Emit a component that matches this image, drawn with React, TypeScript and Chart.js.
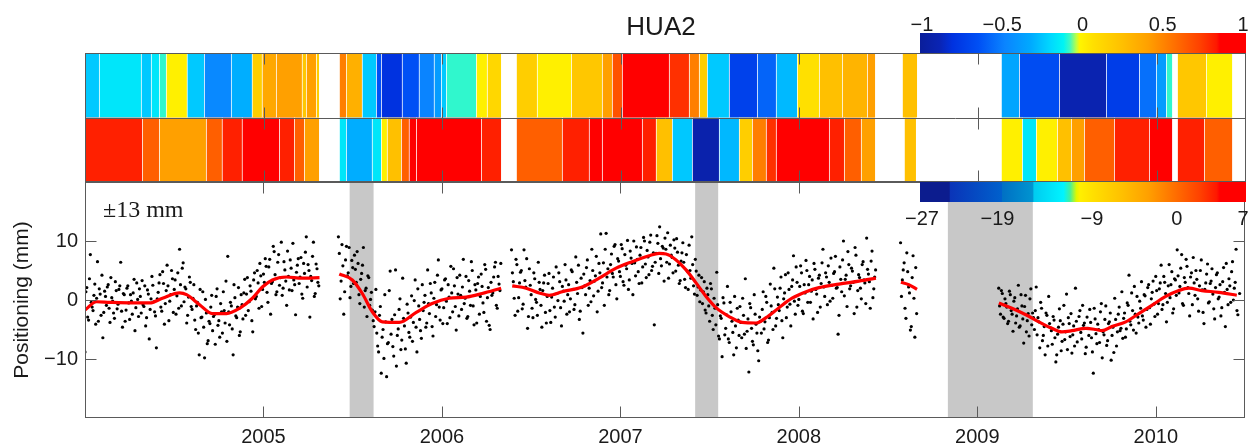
import React, { useEffect, useRef } from 'react';
import { Chart, registerables } from 'chart.js';

Chart.register(...registerables);

const FONT = "'Liberation Sans', Arial, sans-serif";
const SERIF = "'Liberation Serif', 'Times New Roman', serif";
const TEXT = '#1a1a1a';
const AXIS = '#5a5a5a';

const titleText = 'HUA2';
const yAxisTitle = 'Positioning (mm)';
const rangeNote = '\u00b113 mm';

const xMin = 2004;
const xMax = 2010.5;
const yMin = -20;
const yMax = 20;
const xTickYears = [2005, 2006, 2007, 2008, 2009, 2010];
const yTickValues = [-10, 0, 10];
const corrTicks = [-1, -0.5, 0, 0.5, 1];
const ampTicks = [-27, -19, -9, 0, 7];
const corrRange = [-1, 1];
const ampRange = [-27, 7];

const grayBands = [
  [2005.483, 2005.617],
  [2007.419, 2007.548],
  [2008.835, 2009.311],
];

// GPS positions (mm), regularly sampled every dotStep years within each continuous segment;
// two interleaved sample sets per segment
const dotStep = 0.01;
const dotStarts = [2004.0, 2005.42, 2006.39, 2008.57, 2009.12];
const dotStarts2 = [2004.005, 2005.425, 2006.395, 2008.575, 2009.125];
const dotsA = [
  -8.8, 2.1, -3.4, 7.7, -1.2, 0.8, -4.1, 6.5, 1.9, -2.6,
  -6.4, 1.5, -0.9, 2.6, -3.8, 0.4, -2.2, 3.1, -1.5, 1.8,
  6.4, -4.6, 0.9, -1.7, 2.4, -3.3, -0.2, 1.2, -5.2, 2.9,
  -2.8, 0.6, 3.3, -1.1, -4.4, 1.7, -6.6, 0.2, 2.5, -2.0,
  -8.1, 1.3, 4.3, -1.9, 2.8, -0.6, 5.9, -3.5, 0.9, 3.6,
  1.8, -2.4, 4.6, 8.6, -1.0, 6.3, 2.2, -3.9, 0.5, 3.0,
  -1.6, 2.6, -5.0, -0.4, -9.3, -3.0, 1.4, -9.8, -2.2, -6.9,
  -4.0, 0.8, -2.8, -7.5, 1.9, -3.5, -0.6, -5.6, -1.8, 3.2,
  7.4, -4.2, -1.0, -9.3, 0.4, -3.0, 2.1, -5.4, -0.8, 1.2,
  -2.6, 3.8, -0.3, 1.5, -5.4, 4.6, 0.6, 2.9, 6.2, -1.1,
  4.4, 7.0, 1.3, 5.6, -2.4, 3.1, 8.2, 0.9, 6.4, 2.5,
  9.8, 2.0, 5.1, -0.9, 4.0, 6.8, 1.6, 3.4, -2.5, 5.9,
  2.8, 7.2, 0.3, 4.5, 10.7, 6.0, -2.9, 3.3, 9.8, 1.1,
  5.3, 2.4,
];
const dotsA2 = [
  1.4, -2.9, 3.6, -0.4, -1.8, 2.7, 0.3, -3.6, 1.0, 4.2,
  -2.1, 0.6, 2.2, -1.4, 3.8, -0.2, -3.1, 1.6, -0.7, 2.4,
  -1.9, 1.1, -3.6, 2.0, -0.5, 0.9, -2.4, 3.5, -1.3, 0.1,
  1.9, -2.2, -0.8, 2.4, -3.0, 1.0, -1.6, 4.0, -0.3, -2.7,
  0.2, 2.9, -1.2, 4.8, -4.1, 1.6, 2.4, -0.2, 5.0, -2.1,
  3.4, 0.7, -1.4, 2.6, 5.4, -0.3, 1.9, -2.6, 3.9, -1.1,
  0.3, -3.4, -1.0, -5.6, 1.8, -2.9, -4.6, 0.1, -7.4, -3.6,
  -1.2, -5.2, -2.5, 0.6, -4.3, -6.3, -2.0, 1.4, -3.9, -7.0,
  -2.0, -0.4, -4.9, 2.6, -2.7, -1.2, -6.0, 0.9, -3.2, 3.5,
  1.0, -1.8, 2.4, -3.5, 3.4, 0.2, 5.0, -1.4, 4.1, 1.8,
  3.0, 5.7, -0.4, 6.9, 2.8, 9.1, 4.3, 1.4, 7.7, 3.8,
  0.8, 6.5, 3.2, 8.3, 1.7, 5.4, 9.6, 2.6, 4.7, 7.0,
  3.9, 1.0, 6.2, 8.1, 2.2, 5.0, 4.0, 7.4, 0.6, 6.1,
  3.0,
];
const dotsB = [
  10.7, 0.2, 9.4, -2.4, 6.8, 4.1, 8.9, 2.3, 5.5, 7.6,
  3.0, 6.2, -0.6, 4.5, 8.9, 1.6, -2.8, 3.8, 0.1, -1.7,
  -4.5, 1.8, -7.8, -2.6, -12.4, -5.0, 0.9, -13.0, -7.2, 4.9,
  -3.3, -9.5, 5.1, -6.0, -1.6, -8.4, 3.7, -4.4, -10.7, -2.2,
  -6.3, 0.7, -3.8, 3.4, -8.8, -1.0, -5.2, 2.6, -0.4, -4.6,
  5.1, -2.3, 1.2, -6.1, 3.0, -0.8, 6.8, -3.4, 1.9, -1.3,
  3.6, -4.0, 0.5, 5.7, -2.0, 2.4, -5.1, 1.0, 4.2, -1.6,
  6.9, 0.3, -3.1, 3.3, -0.9, 5.0, -4.2, 1.7, 2.8, -2.4,
  4.4, -0.5, 6.0, -3.6, 2.1, -5.0, 0.8, 3.9, 6.4, -1.4,
  2.7, 6.2,
];
const dotsB2 = [
  7.9, 3.2, 5.8, 1.4, 9.1, 4.6, 0.4, 6.7, 2.8, 5.2,
  8.2, 0.9, 3.5, 5.9, -1.2, 2.0, 4.1, -0.9, 1.3, -3.5,
  -2.0, -5.6, -8.8, -1.1, -6.3, -9.9, -3.7, -7.4, 1.6, -5.8,
  -7.9, -2.5, -11.2, -4.9, 0.2, -6.8, -3.1, -8.3, -0.7, -5.5,
  -2.9, -7.0, -0.1, -4.6, 1.9, -3.3, -6.5, -1.8, 0.8, -3.9,
  -0.6, 2.8, -4.5, 0.3, -2.8, 4.2, -1.2, 1.7, -4.0, 3.4,
  -0.2, 2.6, -3.0, 1.2, 5.3, -1.1, 3.8, -2.7, 0.8, 2.2,
  -0.6, 4.0, -2.8, 1.5, 6.5, -1.0, 2.6, -3.9, 3.9, 0.6,
  2.3, -2.1, 5.2, 0.4, -4.3, 3.0, 1.2, 5.6, -0.9, 4.0,
  1.6,
];
const dotsC = [
  8.5, 3.1, -2.6, 6.0, 0.4, 4.7, -1.5, 8.5, 2.2, -4.8,
  5.3, 0.9, -3.0, 3.6, -0.4, 6.4, 1.8, -4.6, 2.9, -2.1,
  0.6, 4.5, -3.8, 2.0, -1.2, 5.6, -0.1, 3.1, -4.4, 1.5,
  6.0, -2.4, 2.6, 0.2, 4.8, -1.6, 7.3, 1.1, -3.3, 3.7,
  -5.6, 2.4, 5.5, -0.9, 3.3, 8.6, 0.7, 4.1, -2.0, 6.2,
  11.2, 2.9, -0.9, 11.3, 5.3, 1.6, 7.8, 3.9, 9.4, 0.2,
  6.6, 4.0, 8.7, 2.5, 5.9, 10.1, 3.4, 7.1, 0.9, 6.3,
  9.0, 4.8, 7.6, 2.9, 10.6, 6.1, 8.4, 4.3, 11.0, 5.7,
  -4.2, 7.9, 9.6, 12.4, 5.8, 8.8, 10.5, 6.4, 3.7, 9.3,
  7.2, 10.2, 4.9, 8.1, 2.8, 6.6, 9.7, 3.5, 7.7, 1.8,
  5.0, 10.7, 2.4, 6.9, 0.8, 4.2, 1.7, -0.6, 3.1, -2.2,
  0.9, -3.6, 1.9, -5.0, -1.4, 4.7, -6.1, -2.7, -9.6, -0.5,
  -4.8, 2.3, -7.2, -2.0, -5.5, 0.6, -8.1, -3.4, -1.1, -6.4,
  -2.6, 3.6, -5.3, -12.2, -1.3, -7.0, 0.9, -4.1, -8.6, -2.9,
  -5.6, 1.4, -3.7, -0.4, -6.8, 2.7, -2.1, 5.4, -4.4, 0.5,
  -1.8, 3.9, -6.4, 1.2, -3.0, 4.6, -0.7, 2.3, 7.5, -2.4,
  3.0, 0.1, 5.8, -1.9, 2.6, 6.7, -0.4, 4.0, 1.5, -3.2,
  5.2, 1.0, 3.7, -1.2, 6.3, 2.2, 4.6, -0.8, 3.0, 7.1,
  0.3, 4.8, 2.0, -5.8, 5.6, 1.4, 10.0, 3.5, -1.1, 6.0,
  2.4, 4.9, -2.3, 7.6, 1.6, 3.8, 0.2, 6.5, 2.9, 10.5,
  4.4, -1.4, 8.3, 1.9, 5.1,
];
const dotsC2 = [
  4.6, 0.3, 6.9, -1.9, 2.9, 5.0, -0.7, 3.3, 7.0, -2.8,
  2.5, -1.4, 4.6, 0.1, -2.6, 3.0, -0.9, 1.6, 4.2, -3.9,
  2.8, -1.8, 0.5, 3.9, -2.9, 1.1, 4.6, -1.3, 2.3, -0.2,
  3.4, 0.9, -2.0, 5.1, 1.8, -0.8, 3.0, 5.9, -1.9, 2.1,
  4.4, 0.9, 6.8, 2.0, -0.3, 5.0, 3.2, 7.4, 1.5, 4.6,
  2.1, 6.3, 8.6, 3.9, 0.9, 6.0, 4.5, 9.1, 2.6, 7.0,
  4.8, 9.4, 3.1, 7.7, 5.3, 1.8, 8.3, 6.2, 10.0, 4.1,
  6.9, 2.8, 8.9, 5.6, 10.0, 3.8, 7.3, 9.8, 5.0, 8.0,
  6.4, 10.9, 4.5, 7.0, 9.1, 3.2, 8.6, 11.4, 6.1, 7.6,
  4.6, 8.8, 10.4, 5.9, 3.3, 8.0, 6.4, 2.1, 4.9, 9.3,
  3.7, 6.0, 1.0, 4.9, 2.2, -0.3, 3.8, 1.4, -1.7, 2.0,
  -1.0, 2.8, -2.6, 0.3, -4.2, -0.8, -6.6, -3.1, 0.4, -5.9,
  -2.5, -6.6, -0.4, -3.6, -9.3, -4.4, -1.4, -6.0, -3.8, 0.3,
  -5.8, -8.2, -3.2, -0.6, -4.8, -7.6, -2.4, -5.6, -10.3, -3.6,
  -1.6, -4.9, 0.6, -7.2, -3.0, -1.0, -5.0, 1.9, -3.1, -0.8,
  2.0, -3.5, 0.2, 4.3, -1.2, 1.8, -4.4, 3.4, -0.2, 5.6,
  -0.9, 2.3, 4.6, -2.3, 1.2, 5.0, 2.6, -0.4, 3.4, 6.2,
  1.8, -2.1, 4.2, 2.8, 8.6, 0.6, 3.9, 5.8, -0.2, 2.5,
  4.5, 7.4, 2.1, -2.6, 3.5, 6.8, 0.7, 4.2, 8.2, 1.9,
  5.4, 3.0, 8.9, -1.2, 4.3, 2.0, 6.0, 3.4, -0.6, 5.2,
  3.1, 6.6, 0.4, 3.9,
];
const dotsD = [9.7, 3.4, 6.3, -3.1, 4.8, 1.2, -4.5, 7.5, -6.3, -2.3];
const dotsD2 = [0.6, 5.1, -1.4, 8.0, 2.2, -5.1, 3.8, 0.3, 5.5];
const dotsE = [
  2.0, -2.4, 1.1, -3.1, -0.6, -4.0, 1.5, -1.8, -5.3, 0.4,
  -2.7, 2.5, -4.4, -1.0, -7.3, 0.8, -3.5, -6.1, 1.9, -2.2,
  -5.0, 2.2, -3.0, -8.1, -1.4, -6.0, -9.3, -2.6, 0.6, -4.7,
  -7.5, -3.4, -10.5, -5.8, -1.5, -8.6, -4.1, -6.7, 1.0, -3.0,
  -6.2, -9.0, -4.4, 2.0, -7.1, -2.8, -5.5, -0.9, -3.9, -8.0,
  -4.8, -1.6, -6.4, -12.4, -3.2, -7.4, -5.0, -2.0, -9.8, -5.9,
  -1.0, -6.9, -3.7, -10.2, -4.6, 0.3, -7.8, -2.4, -5.2, 1.4,
  -3.1, -6.3, -0.5, 4.2, -4.2, -1.8, 2.3, -5.6, -2.9, -0.2,
  3.1, -3.4, 0.7, -1.6, 2.6, -4.1, 1.3, -0.7, 4.0, -2.4,
  1.9, 5.9, -0.8, 3.0, -3.7, 2.4, 0.4, 4.8, -1.5, 3.4,
  8.5, 1.2, 5.4, -0.6, 3.8, 6.9, 2.1, -2.7, 4.6, 7.2,
  0.8, 3.5, -1.9, 5.0, 1.7, -4.0, 2.9, 6.1, -0.3, 3.2,
  1.0, -3.2, 4.3, 0.2, 2.6, -1.3, 5.5, -4.5, 1.8, 3.6,
  -0.4, 6.5, 2.0, 8.6, -2.5, 1.1,
];
const dotsE2 = [
  -1.0, 1.6, -2.9, 0.2, -1.2, -3.6, 0.9, -2.4, -0.2, -3.9,
  -1.5, -4.6, 0.9, -3.2, -1.1, -5.4, -2.3, 0.2, -4.2, -3.0,
  -1.8, -5.9, -3.7, -0.4, -6.9, -4.5, -2.2, -7.8, -4.0, -5.2,
  -2.8, -6.4, -9.3, -4.6, -3.5, -7.0, -0.9, -5.4, -8.4, -4.0,
  -2.3, -5.9, -7.8, -3.6, -5.0, -1.8, -6.6, -4.3, -9.1, -2.9,
  -6.0, -3.8, -8.8, -1.4, -5.7, -4.1, -7.2, -0.6, -5.4, -3.3,
  -7.7, -4.0, -2.2, -6.0, -8.9, -3.3, -5.4, -1.2, -4.8, -6.5,
  -2.2, -4.9, -0.9, -3.6, 1.2, -5.1, -2.4, 0.6, -3.9, -1.4,
  -2.7, 0.9, -4.6, 2.1, -1.3, 0.2, 3.2, -2.8, 1.6, -0.6,
  2.9, -1.6, 4.0, 1.1, -0.4, 6.0, 2.6, -2.2, 3.6, 0.8,
  4.1, 2.3, 7.7, -0.9, 3.0, 5.7, 1.1, 3.9, -0.8, 2.9,
  5.0, 0.2, 2.4, 6.8, -2.1, 1.8, 4.4, -0.5, 2.8, 5.3,
  -1.5, 2.1, 4.6, 0.5, -2.7, 3.1, 1.3, 6.2, -0.8, 2.4,
  4.8, 0.0, 3.0, -1.8,
];
const dotSegments = [dotsA, dotsB, dotsC, dotsD, dotsE];
const dotSegments2 = [dotsA2, dotsB2, dotsC2, dotsD2, dotsE2];

// smoothed trend (year, mm) per segment
const trendA = [
  [2004.0, -1.7], [2004.065, -0.3], [2004.138, -0.4], [2004.267, -0.5], [2004.362, -0.5],
  [2004.434, 0.3], [2004.53, 1.2], [2004.569, 0.9], [2004.642, -0.8], [2004.714, -2.3],
  [2004.793, -2.3], [2004.866, -1.4], [2004.938, 0.3], [2004.994, 2.2], [2005.05, 3.4],
  [2005.129, 3.9], [2005.216, 3.7], [2005.314, 3.8],
];
const trendB = [
  [2005.425, 4.4], [2005.498, 3.4], [2005.554, 1.1], [2005.61, -2.0], [2005.666, -3.7],
  [2005.761, -3.8], [2005.856, -2.1], [2005.945, -0.6], [2006.04, 0.3], [2006.136, 0.5],
  [2006.225, 1.1], [2006.332, 2.0],
];
const trendC = [
  [2006.394, 2.4], [2006.472, 2.0], [2006.545, 1.2], [2006.601, 0.8], [2006.674, 1.4],
  [2006.786, 2.2], [2006.881, 3.7], [2006.976, 5.4], [2007.066, 6.5], [2007.161, 7.5],
  [2007.217, 7.9], [2007.256, 7.8], [2007.312, 6.8], [2007.368, 5.1], [2007.424, 2.9],
  [2007.48, 0.6], [2007.536, -1.3], [2007.609, -2.8], [2007.682, -3.8], [2007.76, -3.9],
  [2007.816, -3.0], [2007.889, -1.3], [2007.962, 0.3], [2008.041, 1.4], [2008.113, 2.1],
  [2008.225, 2.7], [2008.337, 3.2], [2008.432, 3.7],
];
const trendD = [[2008.572, 3.0], [2008.616, 2.6], [2008.662, 1.8]];
const trendE = [
  [2009.121, -0.5], [2009.194, -1.4], [2009.272, -2.5], [2009.345, -3.7], [2009.418, -4.8],
  [2009.474, -5.4], [2009.53, -5.2], [2009.608, -4.8], [2009.664, -5.0], [2009.698, -5.2],
  [2009.754, -4.5], [2009.832, -3.7], [2009.905, -2.3], [2009.978, -0.9], [2010.056, 0.6],
  [2010.129, 1.6], [2010.185, 2.0], [2010.258, 1.6], [2010.353, 1.3], [2010.454, 0.8],
];
const trendSegments = [trendA, trendB, trendC, trendD, trendE];

// strip rows: [start year, end year, value]
const corrRow = [
  [2004.0, 2004.082, -0.24], [2004.082, 2004.317, -0.16], [2004.317, 2004.373, -0.24],
  [2004.373, 2004.418, -0.16], [2004.418, 2004.457, -0.09], [2004.457, 2004.574, 0.0],
  [2004.574, 2004.67, -0.24], [2004.67, 2004.821, -0.46], [2004.821, 2004.938, -0.31],
  [2004.938, 2004.994, 0.16], [2004.994, 2005.073, 0.36], [2005.073, 2005.218, 0.4],
  [2005.218, 2005.241, 0.2], [2005.241, 2005.297, 0.4], [2005.297, 2005.314, 0.16],
  [2005.426, 2005.465, 0.51], [2005.465, 2005.554, 0.32], [2005.554, 2005.633, -0.24],
  [2005.633, 2005.661, -0.64], [2005.661, 2005.778, -0.8], [2005.778, 2005.873, -0.64],
  [2005.873, 2005.957, -0.48], [2005.957, 2005.997, -0.38], [2005.997, 2006.025, -0.24],
  [2006.025, 2006.193, -0.09], [2006.193, 2006.254, 0.0], [2006.254, 2006.333, 0.11],
  [2006.417, 2006.534, 0.16], [2006.534, 2006.725, 0.0], [2006.725, 2006.898, 0.2],
  [2006.898, 2006.954, 0.4], [2006.954, 2007.01, 0.66], [2007.01, 2007.273, 0.9],
  [2007.273, 2007.385, 0.76], [2007.385, 2007.441, 0.51], [2007.441, 2007.486, 0.16],
  [2007.486, 2007.609, -0.24], [2007.609, 2007.766, -0.72], [2007.766, 2007.872, -0.58],
  [2007.872, 2007.99, -0.28], [2007.99, 2008.113, 0.06], [2008.113, 2008.242, 0.24],
  [2008.242, 2008.382, 0.3], [2008.382, 2008.427, 0.4],
  [2008.578, 2008.662, 0.24],
  [2009.132, 2009.233, -0.34], [2009.233, 2009.457, -0.66], [2009.457, 2009.72, -0.9],
  [2009.72, 2009.905, -0.74], [2009.905, 2010.0, -0.54], [2010.0, 2010.056, -0.38],
  [2010.056, 2010.09, -0.09], [2010.118, 2010.28, 0.2], [2010.28, 2010.426, 0.0],
];
const ampRow = [
  [2004.0, 2004.323, 3.6], [2004.323, 2004.418, 0.5], [2004.418, 2004.681, -3.2],
  [2004.681, 2004.77, 0.5], [2004.77, 2004.882, 3.6], [2004.882, 2005.09, 5.3],
  [2005.09, 2005.174, 3.6], [2005.174, 2005.23, 0.5], [2005.23, 2005.314, -3.2],
  [2005.426, 2005.465, -12.7], [2005.465, 2005.61, -15.3], [2005.61, 2005.661, -12.7],
  [2005.661, 2005.694, -10.0], [2005.694, 2005.773, -5.9], [2005.773, 2005.817, 0.5],
  [2005.817, 2005.857, 4.3], [2005.857, 2006.221, 5.3], [2006.221, 2006.333, 3.6],
  [2006.417, 2006.674, 0.5], [2006.674, 2006.825, 3.6], [2006.825, 2006.898, 4.6],
  [2006.898, 2007.122, 5.3], [2007.122, 2007.2, 3.6], [2007.2, 2007.29, -5.9],
  [2007.29, 2007.402, -14.1], [2007.402, 2007.553, -25.6], [2007.553, 2007.665, -14.8],
  [2007.665, 2007.738, -7.3], [2007.738, 2007.816, -1.3], [2007.816, 2007.872, 2.9],
  [2007.872, 2008.169, 5.3], [2008.169, 2008.253, 3.6], [2008.253, 2008.348, 0.5],
  [2008.348, 2008.427, -3.2],
  [2008.589, 2008.656, -5.9],
  [2009.132, 2009.25, -10.0], [2009.25, 2009.328, -12.7], [2009.328, 2009.446, -10.0],
  [2009.446, 2009.524, -5.9], [2009.524, 2009.597, -3.2], [2009.597, 2009.765, 0.5],
  [2009.765, 2009.961, 3.6], [2009.961, 2010.09, 5.3],
  [2010.118, 2010.269, 3.6], [2010.269, 2010.426, 0.5],
];

const cmapTop = [
  [0.0, '#0a1e9a'], [0.06, '#0a24b4'], [0.1, '#0032e0'], [0.18, '#0050f5'], [0.26, '#0a84ff'],
  [0.34, '#00aaff'], [0.4, '#00d8ff'], [0.44, '#00f4f4'], [0.46, '#40f8c0'], [0.48, '#c0ff40'],
  [0.49, '#fff500'], [0.53, '#ffe000'], [0.62, '#ffc000'], [0.7, '#ffa000'], [0.78, '#ff7000'],
  [0.86, '#ff4000'], [0.91, '#ff1800'], [0.92, '#ff0000'], [1.0, '#ff0000'],
];
const cmapBottom = [
  [0.0, '#0c1c8e'], [0.09, '#0c1c8e'], [0.092, '#0a34b8'], [0.25, '#0060cc'], [0.252, '#0070c4'],
  [0.345, '#0094d0'], [0.35, '#00ccf0'], [0.44, '#00f4ff'], [0.46, '#40f0a0'], [0.48, '#e0f800'],
  [0.49, '#fff000'], [0.53, '#ffe000'], [0.62, '#ffc000'], [0.7, '#ffa000'], [0.78, '#ff7000'],
  [0.86, '#ff4000'], [0.91, '#ff1800'], [0.92, '#ff0000'], [1.0, '#ff0000'],
];

function hexToRgb(h: string) {
  const n = parseInt(h.slice(1), 16);
  return [(n >> 16) & 255, (n >> 8) & 255, n & 255];
}
function colorAt(stops: any[], t: number) {
  const tt = Math.max(0, Math.min(1, t));
  for (let i = 0; i < stops.length - 1; i++) {
    const [t0, c0] = stops[i];
    const [t1, c1] = stops[i + 1];
    if (tt <= t1) {
      const f = t1 === t0 ? 0 : (tt - t0) / (t1 - t0);
      const a = hexToRgb(c0);
      const b = hexToRgb(c1);
      const m = a.map((v, k) => Math.round(v + (b[k] - v) * f));
      return `rgb(${m[0]},${m[1]},${m[2]})`;
    }
  }
  return stops[stops.length - 1][1];
}
const norm = (v: number, r: number[]) => (v - r[0]) / (r[1] - r[0]);
const minusFmt = (v: number) => (v < 0 ? '\u2212' + String(Math.abs(v)) : String(v));

// colorbar placement (pixels)
const CB_LEFT = 920;
const CB_RIGHT = 1246;
const CB_LABEL_L = 922;
const CB_LABEL_R = 1243;

export default function App() {
  const mainRef = useRef<HTMLCanvasElement>(null);
  const stripRef = useRef<HTMLCanvasElement>(null);

  useEffect(() => {
    const dotData: any[] = [];
    dotSegments.forEach((vals, k) => {
      vals.forEach((v, i) => dotData.push({ x: dotStarts[k] + i * dotStep, y: v }));
    });
    dotSegments2.forEach((vals, k) => {
      vals.forEach((v, i) => dotData.push({ x: dotStarts2[k] + i * dotStep, y: v }));
    });

    const trendDatasets = trendSegments.map((seg) => ({
      data: seg.map(([x, y]) => ({ x, y })),
      showLine: true,
      borderColor: '#ff0000',
      borderWidth: 3.2,
      pointRadius: 0,
      cubicInterpolationMode: 'monotone',
      order: 0,
    }));

    const mainPlugin = {
      id: 'mainDeco',
      beforeDatasetsDraw(chart: any) {
        const { ctx, chartArea } = chart;
        const xs = chart.scales.x;
        ctx.save();
        ctx.fillStyle = '#c8c8c8';
        grayBands.forEach(([a, b]) => {
          const x0 = xs.getPixelForValue(a);
          const x1 = xs.getPixelForValue(b);
          ctx.fillRect(x0, chartArea.top, x1 - x0, chartArea.bottom - chartArea.top);
        });
        ctx.restore();
      },
      afterDraw(chart: any) {
        const { ctx, chartArea } = chart;
        const xs = chart.scales.x;
        const ys = chart.scales.y;
        const L = Math.round(chartArea.left) + 0.5;
        const R = Math.round(chartArea.right) - 0.5;
        const T = Math.round(chartArea.top) + 0.5;
        const B = Math.round(chartArea.bottom) - 0.5;
        ctx.save();
        ctx.strokeStyle = AXIS;
        ctx.lineWidth = 1;
        ctx.strokeRect(L, T, R - L, B - T);
        ctx.beginPath();
        xTickYears.forEach((yr) => {
          const x = Math.round(xs.getPixelForValue(yr)) + 0.5;
          ctx.moveTo(x, B); ctx.lineTo(x, B - 11);
          ctx.moveTo(x, T); ctx.lineTo(x, T + 11);
        });
        yTickValues.forEach((v) => {
          const y = Math.round(ys.getPixelForValue(v)) + 0.5;
          ctx.moveTo(L, y); ctx.lineTo(L + 11, y);
          ctx.moveTo(R, y); ctx.lineTo(R - 11, y);
        });
        ctx.stroke();

        ctx.fillStyle = TEXT;
        ctx.font = `26px ${FONT}`;
        ctx.textAlign = 'center';
        ctx.textBaseline = 'alphabetic';
        ctx.fillText(titleText, 661, 35);

        ctx.font = `24px ${SERIF}`;
        ctx.textAlign = 'left';
        ctx.fillText(rangeNote, 103, 217);

        const drawBar = (stops: any[], y0: number, h: number) => {
          const g = ctx.createLinearGradient(CB_LEFT, 0, CB_RIGHT, 0);
          stops.forEach(([t, c]: any) => g.addColorStop(t, c));
          ctx.fillStyle = g;
          ctx.fillRect(CB_LEFT, y0, CB_RIGHT - CB_LEFT, h);
        };
        drawBar(cmapTop, 33, 20);
        drawBar(cmapBottom, 182, 20);

        ctx.fillStyle = TEXT;
        ctx.font = `20px ${FONT}`;
        ctx.textAlign = 'center';
        corrTicks.forEach((v) => {
          const x = CB_LABEL_L + norm(v, corrRange) * (CB_LABEL_R - CB_LABEL_L);
          ctx.fillText(minusFmt(v), x, 31);
        });
        ampTicks.forEach((v) => {
          const x = CB_LABEL_L + norm(v, ampRange) * (CB_LABEL_R - CB_LABEL_L);
          ctx.fillText(minusFmt(v), x, 225);
        });
        ctx.restore();
      },
    };

    const main = new Chart(mainRef.current as HTMLCanvasElement, {
      type: 'scatter',
      data: {
        datasets: [
          ...trendDatasets,
          {
            data: dotData,
            backgroundColor: '#000000',
            borderWidth: 0,
            pointRadius: 1.6,
            order: 1,
          },
        ] as any,
      },
      options: {
        animation: false,
        responsive: false,
        devicePixelRatio: 1,
        events: [],
        layout: { padding: { top: 182, right: 3, left: 0, bottom: 0 } },
        plugins: { legend: { display: false }, tooltip: { enabled: false }, title: { display: false } },
        scales: {
          x: {
            type: 'linear',
            position: 'bottom',
            min: xMin,
            max: xMax,
            afterBuildTicks: (s: any) => { s.ticks = xTickYears.map((v) => ({ value: v })); },
            afterFit: (s: any) => { s.height = 29; },
            grid: { display: false, drawTicks: false },
            border: { display: false },
            ticks: {
              font: { family: FONT, size: 20 },
              color: TEXT,
              padding: 7,
              maxRotation: 0,
              autoSkip: false,
              callback: (v: any) => String(v),
            },
          },
          y: {
            type: 'linear',
            min: yMin,
            max: yMax,
            afterBuildTicks: (s: any) => { s.ticks = yTickValues.map((v) => ({ value: v })); },
            afterFit: (s: any) => { s.width = 85; },
            grid: { display: false, drawTicks: false },
            border: { display: false },
            ticks: {
              font: { family: FONT, size: 20 },
              color: TEXT,
              padding: 7,
              callback: (v: any) => minusFmt(Number(v)),
            },
            title: {
              display: true,
              text: yAxisTitle,
              font: { family: FONT, size: 21 },
              color: TEXT,
              padding: { top: 10, bottom: 0 },
            },
          },
        },
      } as any,
      plugins: [mainPlugin],
    });

    const stripPlugin = {
      id: 'stripDeco',
      afterDraw(chart: any) {
        const { ctx, chartArea } = chart;
        const xs = chart.scales.x;
        const L = Math.round(chartArea.left) + 0.5;
        const R = Math.round(chartArea.right) - 0.5;
        const T = Math.round(chartArea.top) + 0.5;
        const B = Math.round(chartArea.bottom) - 0.5;
        const M = Math.round((chartArea.top + chartArea.bottom) / 2) + 0.5;
        ctx.save();
        ctx.strokeStyle = AXIS;
        ctx.lineWidth = 1;
        ctx.strokeRect(L, T, R - L, B - T);
        ctx.beginPath();
        ctx.moveTo(L, M); ctx.lineTo(R, M);
        xTickYears.forEach((yr) => {
          const x = Math.round(xs.getPixelForValue(yr)) + 0.5;
          ctx.moveTo(x, T); ctx.lineTo(x, T + 11);
          ctx.moveTo(x, M - 11); ctx.lineTo(x, M + 11);
          ctx.moveTo(x, B); ctx.lineTo(x, B - 11);
        });
        ctx.stroke();
        ctx.restore();
      },
    };

    const stripBar = (row: number[][], key: string, range: number[]) => ({
      data: row.map(([s, e]) => ({ x: [s, e], y: key })),
      backgroundColor: row.map((r) => colorAt(cmapTop, norm(r[2], range))),
      borderColor: 'rgba(255,255,255,0.85)',
      borderWidth: { top: 0, bottom: 0, left: 0, right: 1 },
      borderSkipped: false,
      grouped: false,
      barPercentage: 1,
      categoryPercentage: 1,
    });

    const strip = new Chart(stripRef.current as HTMLCanvasElement, {
      type: 'bar',
      data: {
        labels: ['corr', 'amp'],
        datasets: [stripBar(corrRow, 'corr', corrRange), stripBar(ampRow, 'amp', ampRange)] as any,
      },
      options: {
        indexAxis: 'y',
        animation: false,
        responsive: false,
        devicePixelRatio: 1,
        events: [],
        layout: { padding: { top: 0, right: 3, left: 85, bottom: 0 } },
        plugins: { legend: { display: false }, tooltip: { enabled: false } },
        scales: {
          x: { type: 'linear', min: xMin, max: xMax, display: false },
          y: { type: 'category', display: false },
        },
      } as any,
      plugins: [stripPlugin],
    });

    return () => {
      main.destroy();
      strip.destroy();
    };
  }, []);

  return (
    <div style={{ position: 'absolute', left: 0, top: 0, width: 1249, height: 447, background: '#ffffff' }}>
      <canvas ref={mainRef} width={1249} height={447} style={{ position: 'absolute', left: 0, top: 0 }} />
      <canvas ref={stripRef} width={1249} height={129} style={{ position: 'absolute', left: 0, top: 53 }} />
    </div>
  );
}
